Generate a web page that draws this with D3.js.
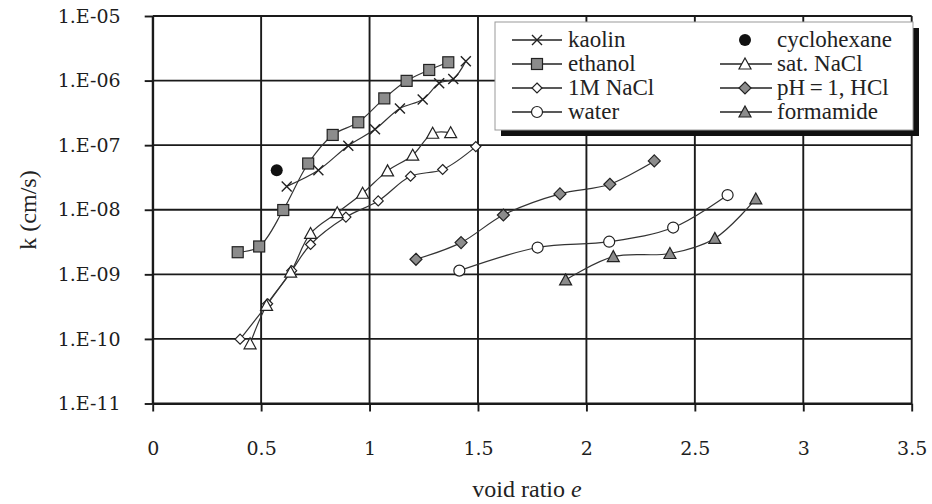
<!DOCTYPE html>
<html>
<head>
<meta charset="utf-8">
<script src="https://cdn.jsdelivr.net/npm/d3@7"></script>
<style>
  html, body { margin: 0; padding: 0; background: #fff; }
  svg { display: block; }
</style>
</head>
<body>
<svg id="chart" width="932" height="504"></svg>
<script>
// Hydraulic conductivity k (cm/s) against void ratio e, one series per pore fluid.
const kaolin      = [[0.618, 2.3e-8], [0.764, 4.1e-8], [0.902, 9.8e-8], [1.025, 1.76e-7], [1.140, 3.7e-7], [1.245, 5.1e-7], [1.321, 9.1e-7], [1.386, 1.06e-6], [1.444, 2.0e-6]];
const ethanol     = [[0.392, 2.2e-9], [0.491, 2.7e-9], [0.602, 9.9e-9], [0.717, 5.2e-8], [0.830, 1.44e-7], [0.948, 2.26e-7], [1.068, 5.3e-7], [1.171, 9.9e-7], [1.275, 1.46e-6], [1.363, 1.92e-6]];
const naCl1M      = [[0.403, 9.9e-11], [0.530, 3.5e-10], [0.641, 1.14e-9], [0.728, 2.9e-9], [0.891, 7.7e-9], [1.040, 1.37e-8], [1.189, 3.3e-8], [1.337, 4.2e-8], [1.490, 9.5e-8]];
const water       = [[1.414, 1.14e-9], [1.775, 2.6e-9], [2.105, 3.2e-9], [2.400, 5.3e-9], [2.651, 1.69e-8]];
const cyclohexane = [[0.572, 4.1e-8]];
const satNaCl     = [[0.449, 8.4e-11], [0.525, 3.3e-10], [0.636, 1.08e-9], [0.728, 4.3e-9], [0.851, 9.0e-9], [0.968, 1.8e-8], [1.083, 4.0e-8], [1.199, 7.0e-8], [1.291, 1.53e-7], [1.374, 1.56e-7]];
const hclPH1      = [[1.214, 1.71e-9], [1.422, 3.1e-9], [1.617, 8.3e-9], [1.878, 1.76e-8], [2.108, 2.48e-8], [2.313, 5.7e-8]];
const formamide   = [[1.904, 8.2e-10], [2.124, 1.88e-9], [2.385, 2.1e-9], [2.592, 3.6e-9], [2.781, 1.47e-8]];

const xTickValues = [0, 0.5, 1, 1.5, 2, 2.5, 3, 3.5];
const xTickLabels = ["0", "0.5", "1", "1.5", "2", "2.5", "3", "3.5"];
const yTickValues = [1e-11, 1e-10, 1e-9, 1e-8, 1e-7, 1e-6, 1e-5];
const yTickLabels = ["1.E-11", "1.E-10", "1.E-09", "1.E-08", "1.E-07", "1.E-06", "1.E-05"];

const xTitle = "void ratio ";
const xTitleItalic = "e";
const yTitle = "k (cm/s)";

const seriesNames = ["kaolin", "ethanol", "1M NaCl", "water", "cyclohexane", "sat. NaCl", "pH\u2009=\u20091, HCl", "formamide"];
const seriesData  = [kaolin, ethanol, naCl1M, water, cyclohexane, satNaCl, hclPH1, formamide];
const seriesMarks = ["cross", "square", "diamondSmall", "circle", "dot", "triangle", "diamond", "triangleFilled"];

const svg = d3.select("#chart");
const plotBox = { left: 152.7, right: 911.7, top: 16, bottom: 403.5 };

const x = d3.scaleLinear().domain([0, 3.5]).range([plotBox.left, plotBox.right]);
const y = d3.scaleLog().domain([1e-11, 1e-5]).range([plotBox.bottom, plotBox.top]);

const INK = "#1a1a1a";
const TICK_FONT = "'DejaVu Serif', serif";
const TEXT_FONT = "'Liberation Serif', 'Times New Roman', serif";

// Grid
const grid = svg.append("g");
grid.selectAll("line.v").data(xTickValues).join("line")
  .attr("x1", d => x(d)).attr("x2", d => x(d))
  .attr("y1", plotBox.top).attr("y2", plotBox.bottom)
  .attr("stroke", INK).attr("stroke-width", 1.9);
grid.selectAll("line.h").data(yTickValues).join("line")
  .attr("x1", plotBox.left).attr("x2", plotBox.right)
  .attr("y1", d => y(d)).attr("y2", d => y(d))
  .attr("stroke", INK).attr("stroke-width", 1.9);

// Axes
const xAxis = d3.axisBottom(x).tickValues(xTickValues)
  .tickFormat((d, i) => xTickLabels[i]).tickSize(8).tickPadding(30).tickSizeOuter(0);
const yAxis = d3.axisLeft(y).tickValues(yTickValues)
  .tickFormat((d, i) => yTickLabels[i]).tickSize(8).tickPadding(24).tickSizeOuter(0);

const gx = svg.append("g").attr("transform", `translate(0,${plotBox.bottom})`).call(xAxis);
const gy = svg.append("g").attr("transform", `translate(${plotBox.left},0)`).call(yAxis);
[gx, gy].forEach(g => {
  g.selectAll("path.domain").attr("stroke", INK).attr("stroke-width", 1.9);
  g.selectAll(".tick line").attr("stroke", INK).attr("stroke-width", 1.9);
  g.selectAll(".tick text").attr("fill", "#1e1e1e")
    .style("font-family", TICK_FONT).style("font-size", "19px");
});

// Axis titles
const xt = svg.append("text")
  .attr("x", 527).attr("y", 497)
  .attr("text-anchor", "middle")
  .style("font-family", TEXT_FONT).style("font-size", "24px").attr("fill", "#222");
xt.append("tspan").text(xTitle);
xt.append("tspan").style("font-style", "italic").text(xTitleItalic);

svg.append("text")
  .attr("transform", "translate(36,210) rotate(-90)")
  .attr("text-anchor", "middle")
  .style("font-family", TEXT_FONT).style("font-size", "24px").attr("fill", "#222")
  .text(yTitle);

// Marker drawing
function drawMark(g, kind, cx, cy) {
  let el;
  switch (kind) {
    case "cross":
      g.append("path").attr("d", `M${cx-5},${cy-5}L${cx+5},${cy+5}M${cx-5},${cy+5}L${cx+5},${cy-5}`)
        .attr("fill", "none").attr("stroke", "#222").attr("stroke-width", 1.4);
      return;
    case "dot":
      g.append("circle").attr("cx", cx).attr("cy", cy).attr("r", 6).attr("fill", "#111");
      return;
    case "square":
      el = g.append("rect").attr("x", cx - 5.5).attr("y", cy - 5.5).attr("width", 11).attr("height", 11).attr("fill", "#8c8c8c");
      break;
    case "diamondSmall":
      el = g.append("path").attr("d", `M${cx},${cy-5}L${cx+5},${cy}L${cx},${cy+5}L${cx-5},${cy}Z`).attr("fill", "#fff");
      break;
    case "diamond":
      el = g.append("path").attr("d", `M${cx},${cy-6}L${cx+6},${cy}L${cx},${cy+6}L${cx-6},${cy}Z`).attr("fill", "#8c8c8c");
      break;
    case "circle":
      el = g.append("circle").attr("cx", cx).attr("cy", cy).attr("r", 5.5).attr("fill", "#fff");
      break;
    case "triangle":
      el = g.append("path").attr("d", `M${cx},${cy-6}L${cx+6},${cy+5}L${cx-6},${cy+5}Z`).attr("fill", "#fff");
      break;
    case "triangleFilled":
      el = g.append("path").attr("d", `M${cx},${cy-6}L${cx+6},${cy+5}L${cx-6},${cy+5}Z`).attr("fill", "#8c8c8c");
      break;
  }
  el.attr("stroke", "#222").attr("stroke-width", 1.2);
}

// Series lines and markers
const line = d3.line()
  .x(d => x(d[0])).y(d => y(d[1]))
  .curve(d3.curveCatmullRom.alpha(0.5));

const plot = svg.append("g");
seriesData.forEach(data => {
  if (data.length > 1) {
    plot.append("path").datum(data).attr("d", line)
      .attr("fill", "none").attr("stroke", "#333").attr("stroke-width", 1.2);
  }
});
seriesData.forEach((data, i) => {
  const g = plot.append("g");
  data.forEach(d => drawMark(g, seriesMarks[i], x(d[0]), y(d[1])));
});

// Legend
const lg = svg.append("g");
const lgX = 495, lgY = 22, lgW = 418, lgH = 108;
lg.append("rect").attr("x", lgX + 6).attr("y", lgY + 6).attr("width", lgW).attr("height", lgH).attr("fill", "#111");
lg.append("rect").attr("x", lgX).attr("y", lgY).attr("width", lgW).attr("height", lgH)
  .attr("fill", "#fff").attr("stroke", "#999").attr("stroke-width", 1);

const rowY = [40, 64, 88, 112];
const cols = [
  { x1: 512, x2: 562, mx: 537, tx: 568 },
  { x1: 720, x2: 772, mx: 745, tx: 777 }
];
seriesNames.forEach((name, i) => {
  const c = cols[Math.floor(i / 4)];
  const ry = rowY[i % 4];
  if (seriesMarks[i] !== "dot") {
    lg.append("line").attr("x1", c.x1).attr("x2", c.x2).attr("y1", ry).attr("y2", ry)
      .attr("stroke", "#222").attr("stroke-width", 1.4);
  }
  drawMark(lg, seriesMarks[i], c.mx, ry);
  lg.append("text").attr("x", c.tx).attr("y", ry).attr("dy", "0.32em")
    .style("font-family", TEXT_FONT).style("font-size", "23px").attr("fill", "#222")
    .text(name);
});
</script>
</body>
</html>
